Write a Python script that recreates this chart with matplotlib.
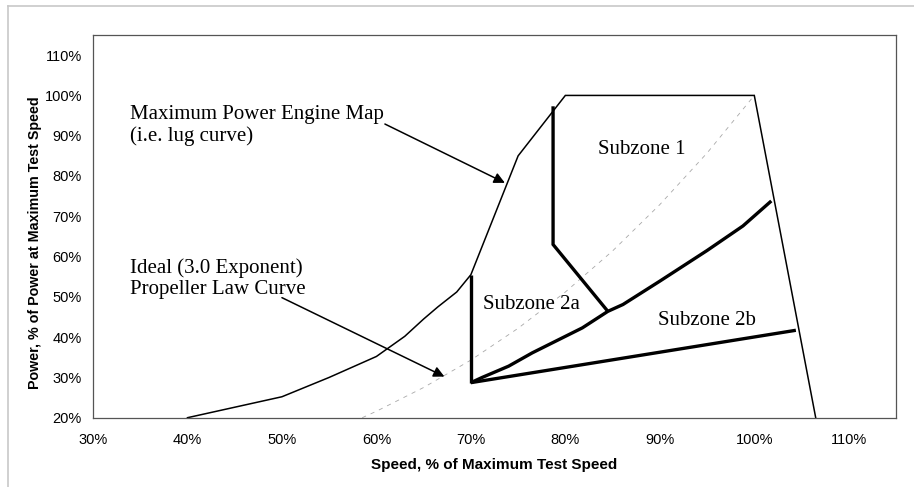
import matplotlib
matplotlib.use("Agg")
import matplotlib.pyplot as plt
from matplotlib.lines import Line2D
from matplotlib.ticker import FuncFormatter

# Maximum power engine map (lug curve): speed %, power %
lug_speed = [40, 50, 55, 60, 63, 65, 66.5, 68.5, 70, 75, 80, 100, 106.5]
lug_power = [20, 25.2, 30, 35.2, 40.2, 44.5, 47.5, 51.2, 55.5, 85, 100, 100, 20]

# Ideal propeller law curve (3.0 exponent)
prop_speed = [58.5, 60, 65, 70, 75, 80, 85, 90, 95, 100]
prop_power = [20, 21.6, 27.5, 34.3, 42.2, 51.2, 61.4, 72.9, 85.7, 100]

# Subzone boundaries (thick lines)
z2a_left_speed = [70, 70]
z2a_left_power = [55.5, 28.7]
z2b_low_speed = [70, 104.4]
z2b_low_power = [28.7, 41.7]
z2_upper_speed = [70, 71.2, 74, 76.5, 81.8, 84.5, 86.1, 90, 95, 98.8, 101.8]
z2_upper_power = [28.7, 30, 32.8, 36.1, 42.3, 46.4, 48.1, 53.9, 61.5, 67.6, 73.8]
z1_speed = [78.7, 78.7, 84.5]
z1_power = [97.3, 63, 46.4]

x_ticks = [30, 40, 50, 60, 70, 80, 90, 100, 110]
y_ticks = [20, 30, 40, 50, 60, 70, 80, 90, 100, 110]

serif = "Liberation Serif"
sans = "Liberation Sans"

fig = plt.figure(figsize=(9.14, 4.87), dpi=100)
ax = fig.add_axes([93 / 914, 1 - 417.7 / 487, 803 / 914, 382.7 / 487])

# outer chart-area frame (gray)
fig.add_artist(Line2D([8 / 914, 1], [1 - 6 / 487, 1 - 6 / 487], color="#c8c8c8", lw=1.2))
fig.add_artist(Line2D([8 / 914, 8 / 914], [0, 1 - 6 / 487], color="#c8c8c8", lw=1.2))

ax.plot(prop_speed, prop_power, color="#a8a8a8", lw=0.6, dashes=(5, 6))
ax.plot(lug_speed, lug_power, color="black", lw=1.1, solid_joinstyle="miter")

thick = dict(color="black", lw=2.4, solid_joinstyle="miter", solid_capstyle="butt")
ax.plot(z2a_left_speed, z2a_left_power, **thick)
ax.plot(z2b_low_speed, z2b_low_power, **thick)
ax.plot(z2_upper_speed, z2_upper_power, **thick)
ax.plot(z1_speed, z1_power, **thick)

ax.set_xlim(30, 115)
ax.set_ylim(20, 115)
ax.set_xticks(x_ticks)
ax.set_yticks(y_ticks)
pct = FuncFormatter(lambda v, p: f"{v:.0f}%")
ax.xaxis.set_major_formatter(pct)
ax.yaxis.set_major_formatter(pct)
ax.tick_params(axis="both", length=0, labelsize=10.5)
ax.tick_params(axis="x", pad=11)
ax.tick_params(axis="y", pad=8)
for lab in ax.get_xticklabels() + ax.get_yticklabels():
    lab.set_fontfamily(sans)
for sp in ax.spines.values():
    sp.set_color("#555555")
    sp.set_linewidth(0.9)

ax.set_xlabel("Speed, % of Maximum Test Speed", fontfamily=sans,
              fontweight="bold", fontsize=11, labelpad=8)
ax.set_ylabel("Power, % of Power at Maximum Test Speed", fontfamily=sans,
              fontweight="bold", fontsize=10.3)
ax.yaxis.set_label_coords(-0.064, 0.458)

# annotations
arrow = dict(arrowstyle="-|>", color="black", lw=1.1, mutation_scale=16,
             shrinkA=0, shrinkB=0)
ax.text(33.9, 92.6, "Maximum Power Engine Map\n(i.e. lug curve)", fontfamily=serif,
        fontsize=15, va="center", ha="left", linespacing=1.15)
ax.annotate("", xy=(73.6, 78.3), xytext=(60.9, 92.9), arrowprops=arrow)

ax.text(33.9, 54.6, "Ideal (3.0 Exponent)\nPropeller Law Curve", fontfamily=serif,
        fontsize=15, va="center", ha="left", linespacing=1.15)
ax.annotate("", xy=(67.2, 30.2), xytext=(50, 49.8), arrowprops=arrow)

ax.text(83.5, 86.6, "Subzone 1", fontfamily=serif, fontsize=15, va="center", ha="left")
ax.text(71.3, 48.1, "Subzone 2a", fontfamily=serif, fontsize=15, va="center", ha="left")
ax.text(89.8, 44.1, "Subzone 2b", fontfamily=serif, fontsize=15, va="center", ha="left")

fig.savefig("out.png", dpi=100)
